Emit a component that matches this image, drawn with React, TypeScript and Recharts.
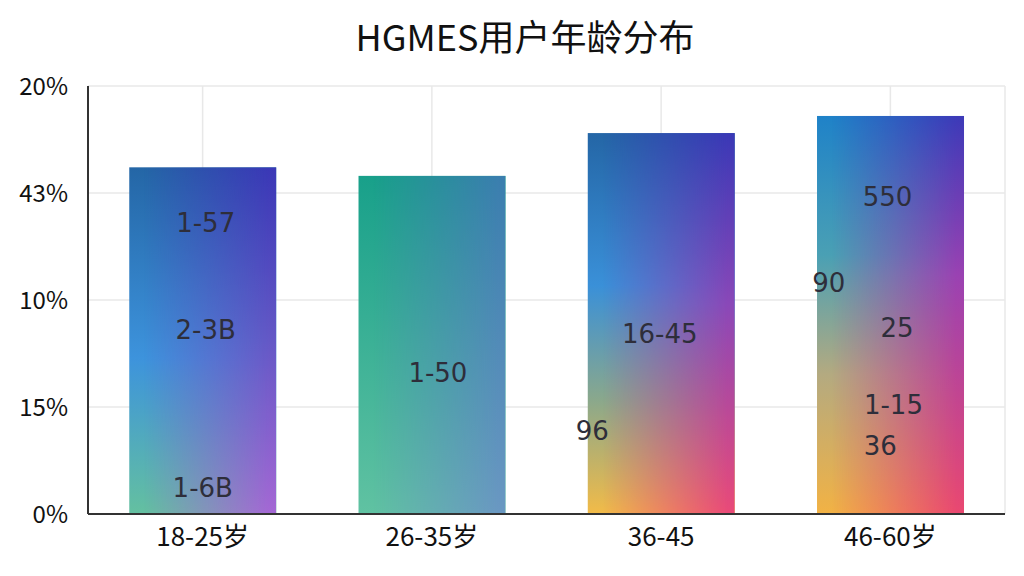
import React from "react";
import { BarChart, Bar, XAxis, YAxis, CartesianGrid } from "recharts";

const categories = ["18-25岁", "26-35岁", "36-45", "46-60岁"];
const shares = [16.2, 15.8, 17.8, 18.6];

const yTicks = [0, 5, 10, 15, 20];
const yTickLabels = ["0%", "15%", "10%", "43%", "20%"];

// text printed inside each bar, the height (in axis units) it sits at, and where across the bar
const innerTexts = [
  ["1-57", "2-3B", "1-6B"],
  ["1-50"],
  ["16-45", "96"],
  ["550", "90", "25", "1-15", "36"],
];
const innerLevels = [
  [13.6, 8.6, 1.2],
  [6.6],
  [8.4, 3.9],
  [14.8, 10.8, 8.7, 5.1, 3.2],
];
const innerAcross = [
  [0.52, 0.52, 0.5],
  [0.54],
  [0.49, 0.03],
  [0.48, 0.08, 0.545, 0.52, 0.43],
];

// left edge and right edge colour ramps, top to bottom
const leftRamps = [
  [["0", "#2466a6"], ["0.55", "#3d93dc"], ["1", "#64c0a0"]],
  [["0", "#18a08a"], ["1", "#60c2a2"]],
  [["0", "#2466a6"], ["0.4", "#3a90d8"], ["0.7", "#8aa88c"], ["1", "#f2bb48"]],
  [["0", "#1f82c8"], ["0.35", "#4aa0b4"], ["0.65", "#b4aa80"], ["1", "#f2b244"]],
];
const rightRamps = [
  [["0", "#3a38b6"], ["0.5", "#6458c6"], ["1", "#a468d4"]],
  [["0", "#3a7eae"], ["1", "#6a98c2"]],
  [["0", "#3a38b6"], ["0.45", "#8a48b8"], ["1", "#ea4a78"]],
  [["0", "#3c3ab8"], ["0.4", "#9a42b2"], ["1", "#ea4870"]],
];

const data = categories.map((name, i) => ({ name, value: shares[i] }));

const FONT = '"Noto Sans CJK SC", "Noto Sans", sans-serif';

const GradientBar = (props: any) => {
  const { x, y, width, height, index, value } = props;
  const id = `bar-${index}`;
  const base = y + height;
  const v = Array.isArray(value) ? value[1] : value;
  return (
    <g>
      <defs>
        <linearGradient id={`${id}-l`} x1="0" y1="0" x2="0" y2="1">
          {leftRamps[index].map(([o, c]) => (
            <stop key={o} offset={o} stopColor={c} />
          ))}
        </linearGradient>
        <linearGradient id={`${id}-r`} x1="0" y1="0" x2="0" y2="1">
          {rightRamps[index].map(([o, c]) => (
            <stop key={o} offset={o} stopColor={c} />
          ))}
        </linearGradient>
        <linearGradient id={`${id}-h`} x1="0" y1="0" x2="1" y2="0">
          <stop offset="0.1" stopColor="#000" />
          <stop offset="0.95" stopColor="#fff" />
        </linearGradient>
        <mask id={`${id}-m`}>
          <rect x={x} y={y} width={width} height={height} fill={`url(#${id}-h)`} />
        </mask>
      </defs>
      <rect x={x} y={y} width={width} height={height} fill={`url(#${id}-l)`} />
      <rect
        x={x}
        y={y}
        width={width}
        height={height}
        fill={`url(#${id}-r)`}
        mask={`url(#${id}-m)`}
      />
      {innerTexts[index].map((t, k) => (
        <text
          key={k}
          x={x + width * innerAcross[index][k]}
          y={base - (height * innerLevels[index][k]) / v}
          textAnchor="middle"
          dominantBaseline="central"
          fontSize={26}
          fontFamily="DejaVu Sans, sans-serif"
          fill="#2e2e3a"
        >
          {t}
        </text>
      ))}
    </g>
  );
};

export default function App() {
  return (
    <div
      style={{
        position: "absolute",
        left: 0,
        top: 0,
        width: 1024,
        height: 576,
        background: "#fff",
      }}
    >
      <div
        style={{
          position: "absolute",
          top: 9,
          left: 0,
          width: 1050,
          textAlign: "center",
          fontFamily: FONT,
          fontSize: 36,
          color: "#111",
        }}
      >
        HGMES用户年龄分布
      </div>
      <BarChart
        width={1024}
        height={576}
        data={data}
        margin={{ top: 86, right: 19, bottom: 22, left: 0 }}
        barCategoryGap="18%"
      >
        <CartesianGrid stroke="#e8e8e8" strokeWidth={1.5} />
        <XAxis
          dataKey="name"
          height={40}
          tickLine={false}
          tickMargin={8}
          axisLine={{ stroke: "#333", strokeWidth: 2 }}
          tick={{ fill: "#111", fontSize: 26, fontFamily: FONT }}
        />
        <YAxis
          width={88}
          domain={[0, 20]}
          ticks={yTicks}
          tickFormatter={(v: number) => yTickLabels[yTicks.indexOf(v)]}
          tickLine={false}
          tickSize={6}
          tickMargin={14}
          axisLine={{ stroke: "#333", strokeWidth: 2 }}
          tick={{ fill: "#111", fontSize: 24, fontFamily: FONT }}
        />
        <Bar dataKey="value" shape={GradientBar} isAnimationActive={false} />
      </BarChart>
    </div>
  );
}
